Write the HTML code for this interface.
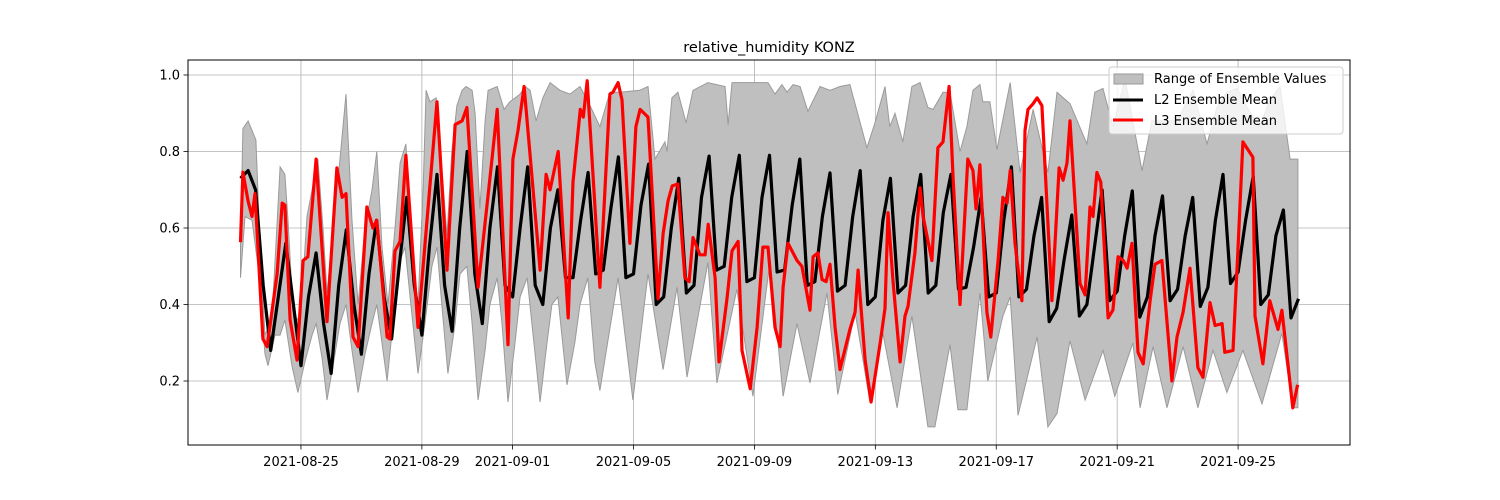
<!DOCTYPE html>
<html><head><meta charset="utf-8"><style>
html,body{margin:0;padding:0;background:#fff;}
svg{display:block;font-family:"DejaVu Sans","Liberation Sans",sans-serif;}
</style></head><body>
<svg id="chart" width="1500" height="500" viewBox="0 0 1500 500" xmlns="http://www.w3.org/2000/svg">
<rect x="0" y="0" width="1500" height="500" fill="#fff"/>
<g id="grid"></g>
<g id="band"></g>
<g id="lines"></g>
<rect x="188" y="60" width="1162" height="385" fill="none" stroke="#000" stroke-width="1"/>
<g id="xticks"></g>
<g id="yticks"></g>
<text x="769" y="52" font-size="14.5" text-anchor="middle">relative_humidity KONZ</text>
<g>
<rect x="1109" y="67" width="234" height="67" rx="3" fill="#fff" fill-opacity="0.8" stroke="#ccc"/>
<rect x="1114" y="74" width="29" height="10" fill="#bfbfbf" stroke="#999"/>
<text x="1154" y="83" font-size="13">Range of Ensemble Values</text>
<line x1="1113" y1="100" x2="1143" y2="100" stroke="#000" stroke-width="3"/>
<text x="1154" y="104" font-size="13">L2 Ensemble Mean</text>
<line x1="1113" y1="120" x2="1143" y2="120" stroke="#f00" stroke-width="3"/>
<text x="1154" y="125" font-size="13">L3 Ensemble Mean</text>
</g>
</svg>
<script>
// Start date: 2021-08-23 00:00, time in days since start
const xTickDays = [2, 6, 9, 13, 17, 21, 25, 29, 33];
const xTickLabels = ["2021-08-25","2021-08-29","2021-09-01","2021-09-05","2021-09-09","2021-09-13","2021-09-17","2021-09-21","2021-09-25"];
const yTickValues = [0.2, 0.4, 0.6, 0.8, 1.0];
const yTickLabels = ["0.2","0.4","0.6","0.8","1.0"];
// L2 mean, 6-hourly from day 0
const l2Values = [
.73,.75,.70,.45, .28,.42,.56,.40, .24,.42,.535,.35, .22,.45,.595,.40, .27,.48,.62,.42,
.31,.50,.68,.45, .32,.55,.74,.45, .33,.60,.80,.48, .35,.60,.76,.45, .42,.60,.76,.45,
.40,.60,.70,.47, .47,.62,.745,.48, .49,.65,.786,.47, .48,.66,.767,.40, .42,.60,.73,.43,
.45,.68,.788,.49, .50,.68,.79,.46, .47,.68,.79,.485, .49,.66,.78,.45, .46,.63,.744,.435,
.45,.63,.75,.40, .42,.62,.73,.43, .45,.63,.74,.43, .45,.64,.74,.44, .445,.55,.68,.42,
.43,.62,.76,.42, .44,.58,.68,.355, .39,.52,.634,.37, .40,.55,.70,.41, .435,.58,.697,.367,
.42,.58,.684,.41, .44,.58,.68,.395, .445,.62,.74,.455, .485,.62,.735,.40, .425,.58,.647,.365,
.415];
const l3Days = [0,0.08,0.25,0.38,0.48,0.74,0.88,1.21,1.38,1.47,1.64,1.87,2.07,2.23,2.50,2.86,3.19,3.36,3.49,3.72,3.89,4.18,4.38,4.51,4.85,4.94,5.11,5.28,5.47,5.87,6.50,6.83,7.10,7.33,7.49,7.86,8.32,8.49,8.85,9.01,9.18,9.38,9.91,10.11,10.24,10.51,10.84,11.00,11.24,11.34,11.47,11.89,12.22,12.32,12.49,12.62,12.88,13.08,13.22,13.48,13.81,13.98,14.14,14.28,14.47,14.70,14.84,14.97,15.20,15.37,15.47,15.70,15.83,16.10,16.26,16.46,16.59,16.86,17.09,17.28,17.45,17.68,17.85,17.95,18.11,18.41,18.57,18.84,18.94,19.10,19.24,19.37,19.50,19.67,19.83,20.16,20.33,20.43,20.66,20.86,21.16,21.32,21.42,21.58,21.82,21.98,22.08,22.31,22.48,22.58,22.87,23.07,23.24,23.44,23.57,23.80,24.06,24.23,24.33,24.46,24.69,24.82,25.06,25.22,25.36,25.46,25.62,25.85,25.95,26.05,26.22,26.35,26.51,26.84,27.08,27.21,27.34,27.44,27.77,27.94,28.10,28.20,28.33,28.46,28.70,28.86,29.03,29.20,29.33,29.49,29.69,29.86,30.09,30.25,30.48,30.81,30.98,31.18,31.41,31.67,31.84,32.07,32.24,32.47,32.56,32.83,32.99,33.16,33.49,33.56,33.82,34.05,34.32,34.45,34.81,34.97];
const l3Values = [.563,.746,.67,.63,.69,.31,.29,.48,.665,.66,.36,.255,.515,.525,.78,.355,.757,.68,.69,.315,.29,.655,.60,.62,.315,.31,.54,.565,.79,.34,.93,.49,.87,.88,.915,.445,.78,.91,.295,.78,.855,.97,.49,.74,.70,.80,.365,.72,.91,.89,.985,.445,.95,.955,.98,.935,.56,.865,.91,.89,.415,.585,.67,.71,.715,.47,.46,.575,.53,.53,.61,.47,.25,.42,.54,.565,.28,.18,.34,.55,.55,.34,.29,.445,.56,.515,.50,.385,.525,.535,.465,.46,.505,.34,.23,.335,.38,.49,.255,.145,.30,.39,.64,.465,.25,.37,.395,.535,.705,.63,.515,.81,.825,.97,.735,.40,.78,.75,.65,.765,.38,.315,.515,.68,.665,.75,.56,.41,.855,.91,.925,.94,.92,.41,.757,.725,.77,.88,.455,.425,.655,.63,.745,.72,.365,.385,.525,.515,.495,.56,.275,.245,.41,.505,.515,.20,.315,.38,.495,.235,.21,.405,.345,.35,.275,.28,.535,.825,.785,.37,.245,.41,.335,.385,.13,.19];
const upperDays = [0,0.08,0.25,0.51,0.65,0.81,1.04,1.31,1.47,1.57,1.74,1.97,2.20,2.37,2.56,2.73,2.86,3.06,3.29,3.49,3.69,3.89,4.12,4.35,4.51,4.68,4.88,5.11,5.28,5.47,5.67,5.87,6.04,6.14,6.27,6.47,6.60,6.83,6.99,7.16,7.33,7.46,7.66,7.76,7.92,8.09,8.19,8.49,8.72,8.91,9.25,9.41,9.58,9.78,10.00,10.24,10.57,10.90,11.23,11.56,11.89,12.22,12.55,13.21,13.48,13.71,14.04,14.11,14.27,14.47,14.74,14.97,15.46,16.03,16.13,16.26,17.45,17.68,17.91,18.08,18.28,18.51,18.77,19.17,19.50,19.83,20.16,20.72,20.99,21.32,21.48,21.65,21.91,22.21,22.48,22.74,22.91,23.24,23.47,23.80,24.03,24.23,24.46,24.56,24.79,25.02,25.46,25.79,26.22,26.71,27.01,27.44,28.00,28.26,28.53,28.86,29.26,29.82,30.15,30.98,31.51,31.97,32.30,32.63,32.97,33.30,33.72,34.05,34.39,34.72,34.98];
const upperValues = [.56,.86,.88,.83,.55,.32,.36,.76,.74,.62,.38,.35,.63,.70,.78,.60,.43,.60,.78,.95,.62,.40,.60,.70,.80,.55,.40,.60,.77,.82,.55,.40,.70,.96,.93,.94,.82,.58,.80,.92,.96,.97,.96,.90,.65,.88,.96,.97,.91,.93,.95,.97,.96,.88,.94,.98,.96,.95,.97,.92,.865,.955,.955,.96,.97,.78,.825,.80,.94,.955,.875,.96,.98,.97,.87,.98,.98,.95,.975,.955,.975,.97,.905,.97,.96,.97,.975,.81,.875,.97,.865,.90,.825,.97,.98,.915,.91,.955,.955,.80,.865,.96,.975,.93,.93,.805,.98,.745,.91,.745,.955,.925,.82,.955,.965,.865,.99,.75,.88,.88,.96,.82,.915,.955,.965,.915,.865,.935,.97,.78,.78];
const lowerDays = [0,0.15,0.38,0.58,0.81,0.91,1.14,1.31,1.47,1.70,1.90,2.13,2.37,2.50,2.70,2.86,3.06,3.29,3.49,3.69,3.89,4.12,4.35,4.51,4.68,4.85,5.04,5.21,5.44,5.61,5.87,6.10,6.33,6.50,6.66,6.86,7.10,7.26,7.49,7.66,7.86,8.09,8.25,8.49,8.65,8.85,9.08,9.25,9.48,9.64,9.91,10.14,10.30,10.50,10.80,11.06,11.23,11.49,11.72,11.89,12.49,12.98,13.48,13.98,14.44,14.77,15.46,15.76,16.42,16.95,17.52,17.95,18.41,18.84,19.40,19.76,20.33,20.82,21.25,21.72,22.21,22.74,22.97,23.47,23.73,24.03,24.46,24.72,25.22,25.46,25.72,26.35,26.71,27.01,27.44,27.94,28.53,28.92,29.52,29.76,30.19,30.65,31.18,31.67,32.17,32.63,33.16,33.79,34.45,34.81,34.98];
const lowerValues = [.47,.63,.62,.50,.27,.24,.32,.32,.36,.24,.17,.25,.32,.35,.26,.15,.24,.35,.40,.28,.17,.27,.35,.40,.30,.20,.35,.50,.55,.42,.22,.35,.50,.55,.40,.22,.35,.48,.50,.35,.15,.28,.40,.47,.35,.145,.30,.42,.47,.35,.145,.30,.40,.42,.19,.30,.40,.47,.25,.175,.47,.15,.48,.23,.445,.21,.51,.195,.44,.16,.515,.16,.35,.195,.43,.165,.38,.145,.325,.13,.37,.08,.08,.295,.125,.125,.43,.20,.37,.42,.11,.315,.08,.115,.305,.15,.28,.16,.30,.13,.29,.13,.29,.13,.28,.17,.28,.14,.325,.13,.13];

const NS = "http://www.w3.org/2000/svg";
const x0 = 240.5, pxPerDay = 30.23;
function xS(d){ return x0 + d * pxPerDay; }
function yS(v){ return 381 - (v - 0.2) * 382.5; }
function mk(tag, attrs, parent){
  const el = document.createElementNS(NS, tag);
  for (const k in attrs) el.setAttribute(k, attrs[k]);
  parent.appendChild(el);
  return el;
}
const grid = document.getElementById('grid');
const xt = document.getElementById('xticks');
const yt = document.getElementById('yticks');
xTickDays.forEach((d, i) => {
  const x = xS(d);
  const g = mk('line', {x1:x, y1:60, x2:x, y2:445, stroke:'#b0b0b0', 'stroke-width':0.8}, grid);
  
  
  const t = mk('line', {x1:x, y1:445, x2:x, y2:449.5, stroke:'#000', 'stroke-width':0.8}, xt);
  
  
  const l = mk('text', {x:x, y:466, 'font-size':13, 'text-anchor':'middle'}, xt);
  l.textContent = xTickLabels[i];
  
  
});
yTickValues.forEach((v, i) => {
  const y = yS(v);
  const g = mk('line', {x1:188, y1:y, x2:1350, y2:y, stroke:'#b0b0b0', 'stroke-width':0.8}, grid);
  
  
  const t = mk('line', {x1:183.5, y1:y, x2:188, y2:y, stroke:'#000', 'stroke-width':0.8}, yt);
  
  
  const l = mk('text', {x:180, y:y + 4.5, 'font-size':13, 'text-anchor':'end'}, yt);
  l.textContent = yTickLabels[i];
  
  
});
// band
let pts = [];
upperDays.forEach((d, i) => pts.push(xS(d).toFixed(1) + ',' + yS(upperValues[i]).toFixed(1)));
for (let i = lowerDays.length - 1; i >= 0; i--) pts.push(xS(lowerDays[i]).toFixed(1) + ',' + yS(lowerValues[i]).toFixed(1));
const band = mk('polygon', {points: pts.join(' '), fill:'#bfbfbf', stroke:'#9a9a9a', 'stroke-width':1}, document.getElementById('band'));


// lines
const lines = document.getElementById('lines');
const l2pts = l2Values.map((v, i) => xS(i * 0.25).toFixed(1) + ',' + yS(v).toFixed(1)).join(' ');
const l2 = mk('polyline', {points: l2pts, fill:'none', stroke:'#000', 'stroke-width':3.2, 'stroke-linejoin':'round'}, lines);


const l3pts = l3Values.map((v, i) => xS(l3Days[i]).toFixed(1) + ',' + yS(v).toFixed(1)).join(' ');
const l3 = mk('polyline', {points: l3pts, fill:'none', stroke:'#f00', 'stroke-width':3.2, 'stroke-linejoin':'round'}, lines);


</script>
</body></html>
